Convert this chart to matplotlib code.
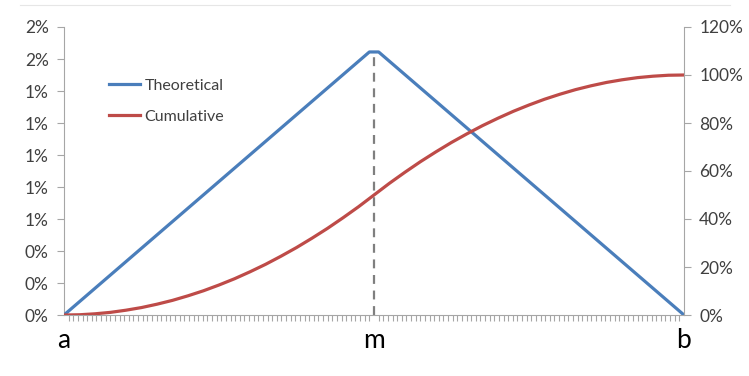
import matplotlib.pyplot as plt
from matplotlib.ticker import FuncFormatter, MultipleLocator

plt.rcParams['font.family'] = ['Lato', 'DejaVu Sans']

# category positions (a .. b) and triangle corner values
n_cats = 134
m_pos = 67
theo_x = [0, 66, 68, 134]
theo_y = [0.0, 0.01644, 0.01644, 0.0]

# cumulative curve, read at every 2.5% of the a..b range
cum_frac = [0.000, 0.025, 0.050, 0.075, 0.100, 0.125, 0.150, 0.175, 0.200, 0.225,
            0.250, 0.275, 0.300, 0.325, 0.350, 0.375, 0.400, 0.425, 0.450, 0.475,
            0.500, 0.525, 0.550, 0.575, 0.600, 0.625, 0.650, 0.675, 0.700, 0.725,
            0.750, 0.775, 0.800, 0.825, 0.850, 0.875, 0.900, 0.925, 0.950, 0.975,
            1.000]
cum_y = [0.000, 0.001, 0.005, 0.011, 0.020, 0.031, 0.045, 0.061, 0.080, 0.101,
         0.125, 0.151, 0.180, 0.211, 0.245, 0.281, 0.320, 0.361, 0.405, 0.451,
         0.500, 0.549, 0.595, 0.639, 0.680, 0.719, 0.755, 0.789, 0.820, 0.849,
         0.875, 0.899, 0.920, 0.939, 0.955, 0.969, 0.980, 0.989, 0.995, 0.999,
         1.000]

x_labels = ['a', 'm', 'b']

blue = '#4A7EBB'
red = '#BE4B48'
grey = '#A6A6A6'
txt = '#404040'

fig = plt.figure(figsize=(7.49, 3.76), dpi=100)
ax = fig.add_axes([64 / 749, 1 - 315 / 376, 620 / 749, 288 / 376])
ax2 = ax.twinx()

ax.plot(theo_x, theo_y, color=blue, lw=2.3, label='Theoretical', zorder=3,
        solid_joinstyle='round')
ax2.plot([f * n_cats for f in cum_frac], cum_y, color=red, lw=2.3, zorder=3,
         solid_joinstyle='round')
ax.plot([], [], color=red, lw=2.3, label='Cumulative')

# dashed marker at the mode
ax.plot([m_pos, m_pos], [0, theo_y[1]], color='#7F7F7F', lw=1.6,
        ls=(0, (4, 3)), zorder=2)

ax.set_xlim(0, n_cats)
ax.set_ylim(0, 0.018)
ax2.set_ylim(0, 1.2)
ax.yaxis.set_major_locator(MultipleLocator(0.002))
ax2.yaxis.set_major_locator(MultipleLocator(0.2))
ax.yaxis.set_major_formatter(FuncFormatter(lambda v, p: f'{int(v * 100 + 0.5)}%'))
ax2.yaxis.set_major_formatter(FuncFormatter(lambda v, p: f'{round(v * 100):d}%'))

ax.set_xticks([0, m_pos, n_cats])
ax.set_xticklabels(x_labels, fontsize=19, color='black')
ax.xaxis.set_minor_locator(MultipleLocator(1))
ax.tick_params(axis='x', which='major', length=0, pad=9)
ax.tick_params(axis='x', which='minor', length=4, width=0.8, color=grey,
               direction='out')

for a in (ax, ax2):
    for s in a.spines.values():
        s.set_visible(False)
ax.spines['left'].set_visible(True)
ax.spines['left'].set_color(grey)
ax.spines['bottom'].set_visible(True)
ax.spines['bottom'].set_color(grey)
ax2.spines['right'].set_visible(True)
ax2.spines['right'].set_color(grey)

ax.tick_params(axis='y', length=5, width=0.8, color=grey, labelsize=12.5,
               labelcolor=txt, pad=6)
ax2.tick_params(axis='y', length=5, width=0.8, color=grey, labelsize=12.5,
                labelcolor=txt, pad=6)

ax.legend(loc='upper left', bbox_to_anchor=(0.05, 0.87), frameon=False,
          fontsize=11.5, handlelength=1.9, handletextpad=0.3, labelspacing=1.05,
          labelcolor=txt)

fig.add_artist(plt.Line2D([20 / 749, 730 / 749], [1 - 5 / 376, 1 - 5 / 376],
                          color='#E6E6E6', lw=0.8))

fig.savefig('out.png', dpi=100)
